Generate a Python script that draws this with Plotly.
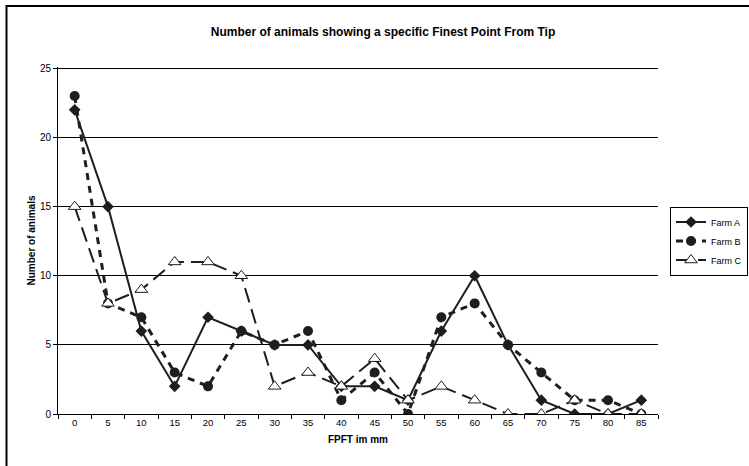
import plotly.graph_objects as go

# FPFT categories (mm) and number of animals per farm
fpft_mm = ["0", "5", "10", "15", "20", "25", "30", "35", "40", "45",
           "50", "55", "60", "65", "70", "75", "80", "85"]
farm_a = [22, 15, 6, 2, 7, 6, 5, 5, 2, 2, 1, 6, 10, 5, 1, 0, 0, 1]
farm_b = [23, 8, 7, 3, 2, 6, 5, 6, 1, 3, 0, 7, 8, 5, 3, 1, 1, 0]
farm_c = [15, 8, 9, 11, 11, 10, 2, 3, 2, 4, 1, 2, 1, 0, 0, 1, 0, 0]

W, H = 749, 466
ML, MR, MT, MB = 58, 85, 67, 52
FONT = "Liberation Sans, Arial, sans-serif"
INK = "#1e1e1e"

fig = go.Figure()
fig.add_trace(go.Scatter(
    x=fpft_mm, y=farm_a, name="Farm A", mode="lines+markers",
    line=dict(color=INK, width=2),
    marker=dict(symbol="diamond", size=9, color=INK),
))
fig.add_trace(go.Scatter(
    x=fpft_mm, y=farm_b, name="Farm B", mode="lines+markers",
    line=dict(color=INK, width=3, dash="7px,6px"),
    marker=dict(symbol="circle", size=10, color=INK),
))
fig.add_trace(go.Scatter(
    x=fpft_mm, y=farm_c, name="Farm C", mode="lines+markers",
    line=dict(color=INK, width=2, dash="15px,7px"),
    marker=dict(symbol="triangle-up", size=11, color="white",
                line=dict(color=INK, width=1)),
))

pw = W - ML - MR
ph = H - MT - MB

fig.update_layout(
    width=W, height=H,
    margin=dict(l=ML, r=MR, t=MT, b=MB),
    paper_bgcolor="white", plot_bgcolor="white",
    font=dict(family=FONT, size=9, color="black"),
    title=dict(
        text="<b>Number of animals showing a specific Finest Point From Tip</b>",
        font=dict(size=12, color="black"),
        x=383 / W, xanchor="center",
        y=1 - 32 / H, yanchor="middle", yref="container",
    ),
    xaxis=dict(
        type="category", range=[-0.5, len(fpft_mm) - 0.5],
        tickson="boundaries", ticks="outside", ticklen=4, tickcolor="black",
        showline=True, linecolor="black", linewidth=1,
        showgrid=False, zeroline=False,
        tickfont=dict(size=9.5),
        title=dict(text="<b>FPFT im mm</b>", font=dict(size=10), standoff=8),
    ),
    yaxis=dict(
        range=[0, 25.1], tickvals=[0, 5, 10, 15, 20, 25],
        ticks="outside", ticklen=4, tickcolor="black",
        showline=True, linecolor="black", linewidth=1,
        showgrid=True, gridcolor="black", gridwidth=1, zeroline=False,
        tickfont=dict(size=10),
        title=dict(text="<b>Number of animals</b>", font=dict(size=10), standoff=2),
    ),
    legend=dict(
        xref="container", yref="container",
        x=670 / W, y=1 - 241 / H, xanchor="left", yanchor="middle",
        bordercolor="black", borderwidth=1, bgcolor="white",
        font=dict(size=9), itemwidth=30, tracegroupgap=0,
    ),
    showlegend=True,
)

# outer chart-area frame (runs off the right and bottom edges)
fig.add_shape(
    type="rect", xref="paper", yref="paper",
    x0=(6 - ML) / pw, x1=(W + 10 - ML) / pw,
    y0=-(MB + 10) / ph, y1=1 + (MT - 6) / ph,
    line=dict(color="black", width=2), fillcolor="rgba(0,0,0,0)",
    layer="below",
)

fig.write_html("out.html")
